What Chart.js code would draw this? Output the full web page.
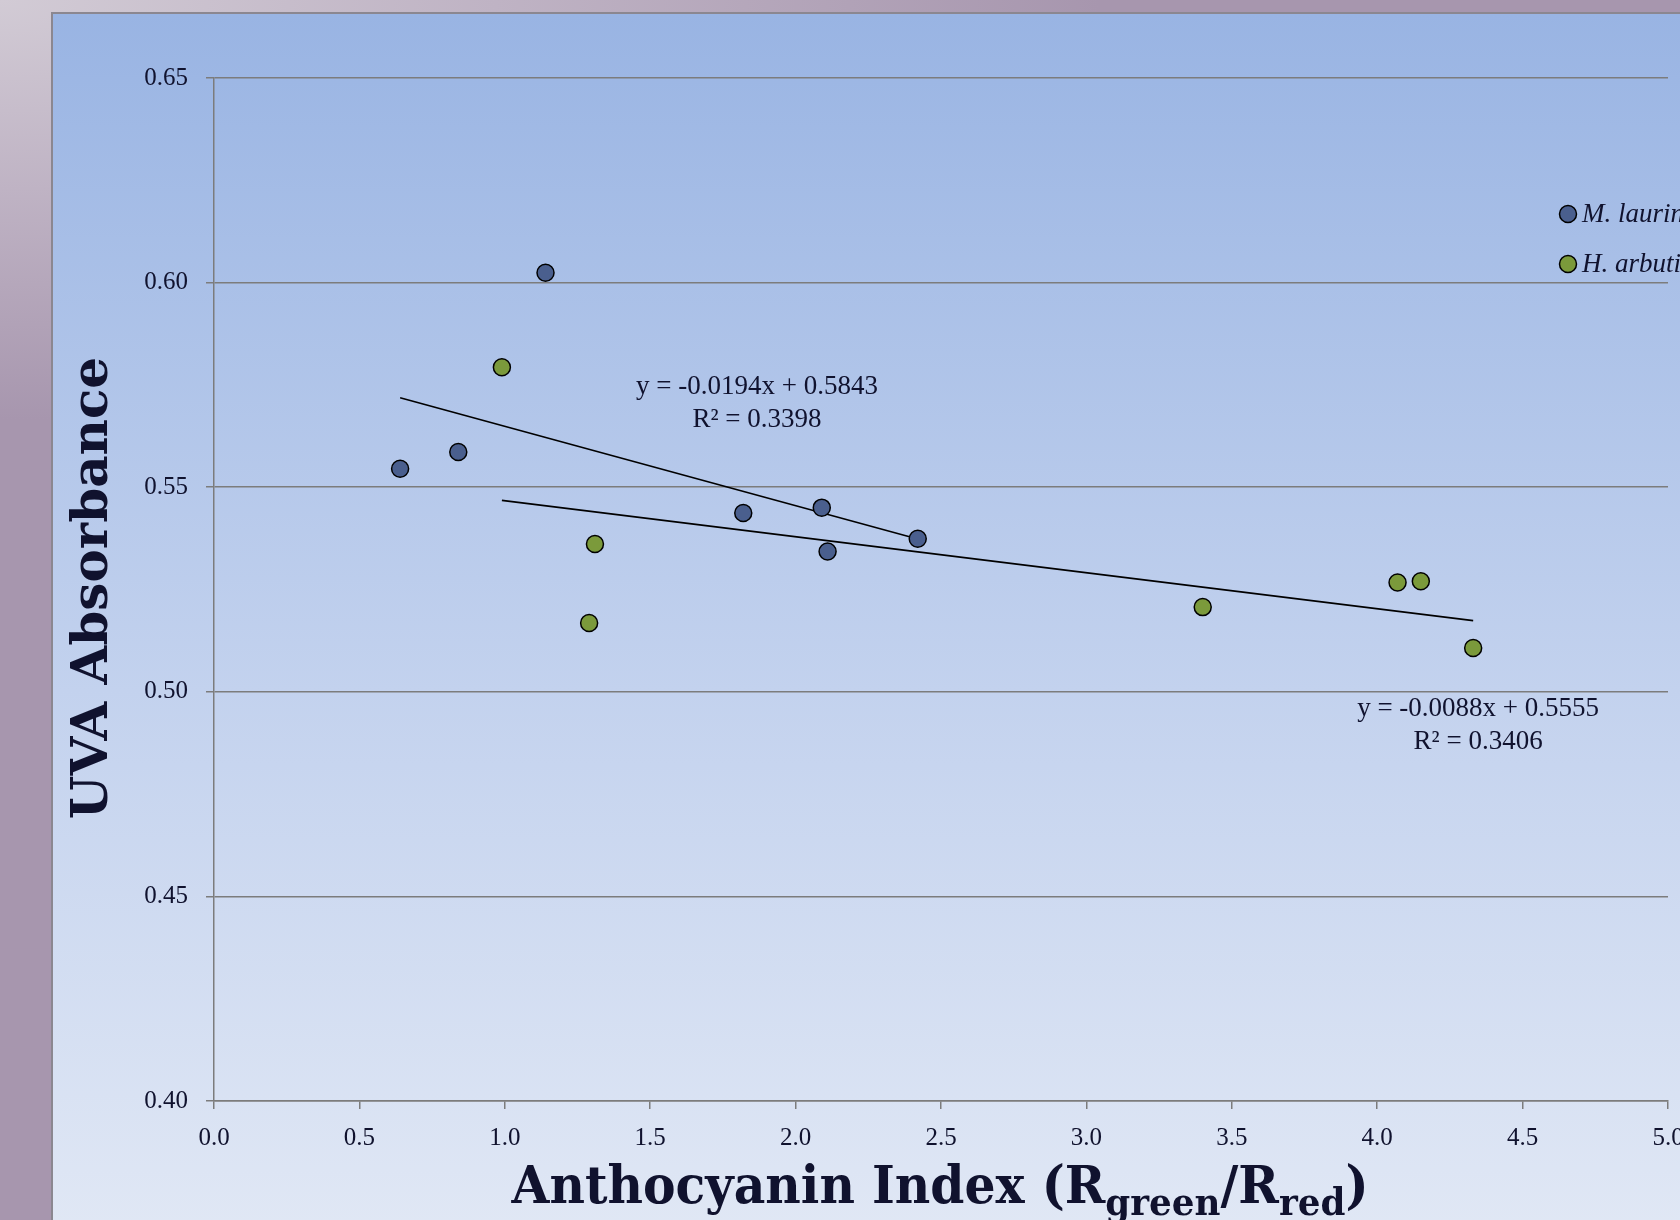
<!DOCTYPE html>
<html>
<head>
<meta charset="utf-8">
<script src="https://cdn.jsdelivr.net/npm/chart.js@4.4.0/dist/chart.umd.min.js"></script>
<style>
  html, body {
    margin: 0;
    width: 1680px;
    height: 1220px;
    overflow: hidden;
    background: radial-gradient(ellipse 1100px 420px at 0 0, #d2cbd5 0, #bfb3c4 45%, #a796ae 100%), #a796ae;
  }
  #panel {
    position: absolute;
    left: 51px;
    top: 12px;
    width: 1800px;
    height: 1230px;
    border: 2px solid #8b8790;
    background: linear-gradient(#99b4e3, #c3d2ee 55%, #e1e8f5);
  }
  #chart {
    position: absolute;
    left: 0;
    top: 0;
  }
</style>
</head>
<body>
<div id="panel"></div>
<canvas id="chart" width="1800" height="1220"></canvas>
<script>
// M. laurina
const laurinaX = [0.64, 0.84, 1.14, 1.82, 2.09, 2.11, 2.42];
const laurinaY = [0.5545, 0.5586, 0.6024, 0.5437, 0.5450, 0.5343, 0.5374];
// H. arbutifolia
const arbutifoliaX = [0.99, 1.31, 1.29, 3.40, 4.07, 4.15, 4.33];
const arbutifoliaY = [0.5793, 0.5361, 0.5168, 0.5207, 0.5267, 0.5270, 0.5107];

// trend lines as printed on the chart: [slope, intercept, r2]
const laurinaFit = [-0.0194, 0.5843, 0.3398];
const arbutifoliaFit = [-0.0088, 0.5555, 0.3406];

const seriesNames = ["M. laurina", "H. arbutifolia"];
const seriesColors = ["#4a5f8e", "#7b9a3b"];
const xTicks = [0, 0.5, 1, 1.5, 2, 2.5, 3, 3.5, 4, 4.5, 5];
const yTicks = [0.40, 0.45, 0.50, 0.55, 0.60, 0.65];

const ink = "#10122e";
const serif = "'Liberation Serif', 'Times New Roman', serif";
const heavy = "'DejaVu Serif', serif";

const toPoints = (xs, ys) => xs.map((x, i) => ({ x: x, y: ys[i] }));

function fitLine(xs, fit) {
  const lo = Math.min(...xs);
  const hi = Math.max(...xs);
  return [
    { x: lo, y: fit[0] * lo + fit[1] },
    { x: hi, y: fit[0] * hi + fit[1] },
  ];
}

const eqText = (fit) => "y = " + fit[0].toFixed(4) + "x + " + fit[1].toFixed(4);

const overlay = {
  id: "overlay",
  afterDraw(chart) {
    const ctx = chart.ctx;
    const xs = chart.scales.x;
    const ys = chart.scales.y;
    ctx.save();
    ctx.fillStyle = ink;

    // trend line equations
    ctx.font = "27px " + serif;
    ctx.textAlign = "center";
    ctx.textBaseline = "middle";
    ctx.fillText(eqText(laurinaFit), xs.getPixelForValue(1.867), ys.getPixelForValue(0.5745));
    ctx.fillText("R² = " + laurinaFit[2].toFixed(4), xs.getPixelForValue(1.867), ys.getPixelForValue(0.5665));
    ctx.fillText(eqText(arbutifoliaFit), xs.getPixelForValue(4.347), ys.getPixelForValue(0.4958));
    ctx.fillText("R² = " + arbutifoliaFit[2].toFixed(4), xs.getPixelForValue(4.347), ys.getPixelForValue(0.4878));

    // legend
    ctx.textAlign = "left";
    ctx.font = "italic 27px " + serif;
    seriesNames.forEach((name, i) => {
      const cy = 214 + i * 50;
      ctx.beginPath();
      ctx.arc(1568, cy, 8.5, 0, Math.PI * 2);
      ctx.fillStyle = seriesColors[i];
      ctx.fill();
      ctx.lineWidth = 1.5;
      ctx.strokeStyle = "#000";
      ctx.stroke();
      ctx.fillStyle = ink;
      ctx.fillText(name, 1582, cy + 1);
    });

    // y axis title
    ctx.save();
    ctx.translate(94, 588);
    ctx.rotate(-Math.PI / 2);
    ctx.textAlign = "center";
    ctx.font = "bold 50px " + heavy;
    ctx.fillText("UVA Absorbance", 0, 0);
    ctx.restore();

    // x axis title with subscripts, squeezed to the width it has in the original
    const big = "bold 52px " + heavy;
    const small = "bold 38px " + heavy;
    const parts = [
      ["Anthocyanin Index (R", big, 0],
      ["green", small, 12],
      ["/R", big, 0],
      ["red", small, 12],
      [")", big, 0],
    ];
    let total = 0;
    parts.forEach((p) => { ctx.font = p[1]; total += ctx.measureText(p[0]).width; });
    const sx = 857 / total;
    ctx.save();
    ctx.translate(940 - 857 / 2, 1203);
    ctx.scale(sx, 1);
    ctx.textBaseline = "alphabetic";
    let x = 0;
    parts.forEach((p) => {
      ctx.font = p[1];
      ctx.fillText(p[0], x, p[2]);
      x += ctx.measureText(p[0]).width;
    });
    ctx.restore();
    ctx.restore();
  },
};

new Chart(document.getElementById("chart"), {
  type: "scatter",
  data: {
    datasets: [
      {
        label: seriesNames[0],
        data: toPoints(laurinaX, laurinaY),
        backgroundColor: seriesColors[0],
        borderColor: "#000",
        borderWidth: 1.5,
        pointRadius: 8.5,
      },
      {
        label: seriesNames[1],
        data: toPoints(arbutifoliaX, arbutifoliaY),
        backgroundColor: seriesColors[1],
        borderColor: "#000",
        borderWidth: 1.5,
        pointRadius: 8.5,
      },
      {
        label: "fit1",
        data: fitLine(laurinaX, laurinaFit),
        showLine: true,
        borderColor: "#000",
        borderWidth: 1.6,
        pointRadius: 0,
      },
      {
        label: "fit2",
        data: fitLine(arbutifoliaX, arbutifoliaFit),
        showLine: true,
        borderColor: "#000",
        borderWidth: 1.6,
        pointRadius: 0,
      },
    ],
  },
  options: {
    responsive: false,
    animation: false,
    devicePixelRatio: 1,
    layout: { padding: { left: 0, top: 78, right: 132, bottom: 0 } },
    plugins: {
      legend: { display: false },
      tooltip: { enabled: false },
    },
    scales: {
      x: {
        type: "linear",
        min: 0,
        max: 5,
        afterFit: (scale) => { scale.height = 119; },
        afterBuildTicks: (scale) => { scale.ticks = xTicks.map((v) => ({ value: v })); },
        grid: { drawOnChartArea: false, drawTicks: true, tickLength: 8, color: "#7c7c7c", lineWidth: 1.5 },
        border: { color: "#7c7c7c", width: 1.5 },
        ticks: {
          color: ink,
          font: { family: serif, size: 25 },
          padding: 14,
          callback: (v) => v.toFixed(1),
        },
      },
      y: {
        type: "linear",
        min: 0.40,
        max: 0.65,
        afterFit: (scale) => { scale.width = 214; },
        afterBuildTicks: (scale) => { scale.ticks = yTicks.map((v) => ({ value: v })); },
        grid: { drawOnChartArea: true, drawTicks: true, tickLength: 8, color: "#7c7c7c", lineWidth: 1.5 },
        border: { color: "#7c7c7c", width: 1.5 },
        ticks: {
          color: ink,
          font: { family: serif, size: 25 },
          padding: 18,
          callback: (v) => v.toFixed(2),
        },
      },
    },
  },
  plugins: [overlay],
});
</script>
</body>
</html>
